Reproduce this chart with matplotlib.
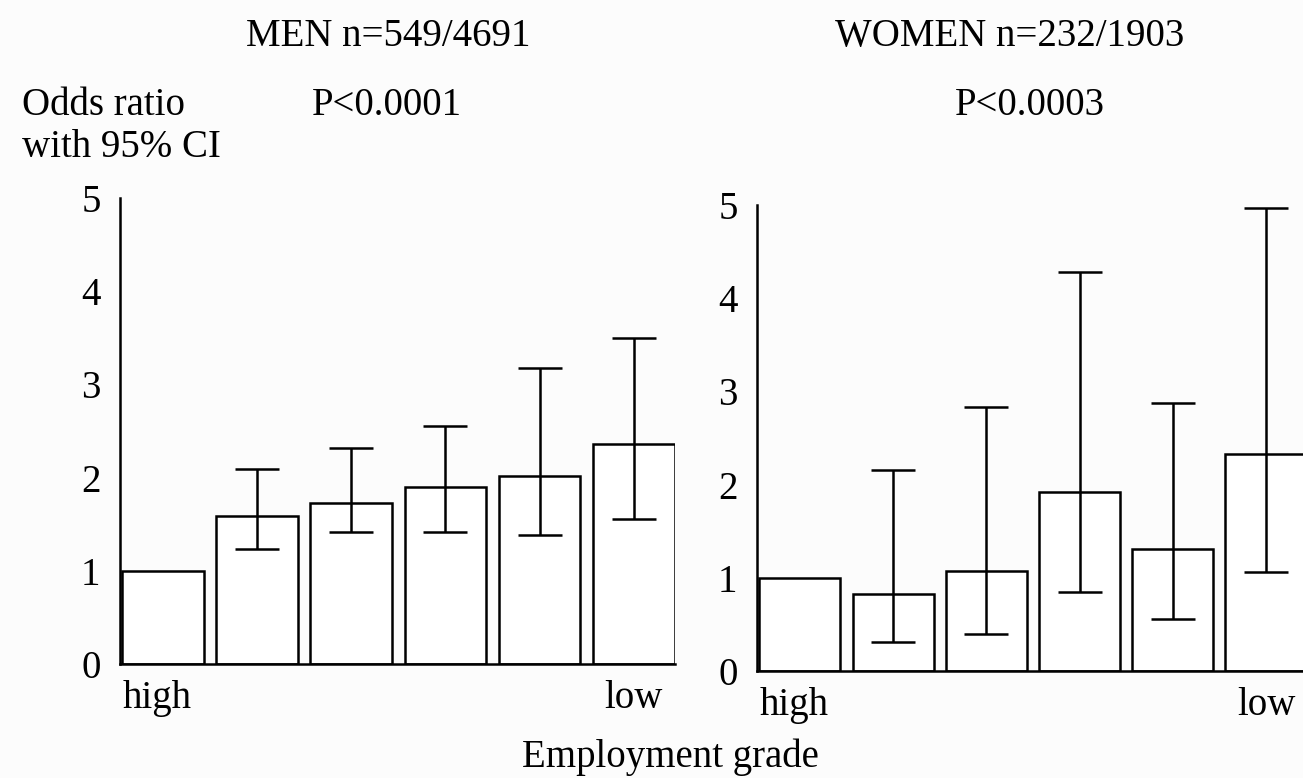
import matplotlib
matplotlib.use("Agg")
import matplotlib.pyplot as plt

# odds ratios by employment grade (high -> low), first grade is the reference
grades = ["high", "", "", "", "", "low"]
men_or = [1.0, 1.59, 1.73, 1.90, 2.02, 2.36]
men_lo = [None, 1.23, 1.42, 1.42, 1.38, 1.56]
men_hi = [None, 2.09, 2.32, 2.55, 3.18, 3.50]
women_or = [1.0, 0.83, 1.07, 1.92, 1.31, 2.33]
women_lo = [None, 0.31, 0.40, 0.85, 0.56, 1.06]
women_hi = [None, 2.16, 2.83, 4.28, 2.88, 4.97]

W, H = 1303, 778
FONT = "Liberation Serif"
FS = 28
LW = 1.8

fig = plt.figure(figsize=(W / 100, H / 100), dpi=100, facecolor="#fcfcfc")


def panel(rect, vals, lo, hi):
    ax = fig.add_axes(rect)
    ax.set_facecolor("none")
    xs = list(range(len(vals)))
    ax.bar(xs, vals, width=0.87, color="white", edgecolor="black", linewidth=LW, zorder=2)
    ex = [x for x, l in zip(xs, lo) if l is not None]
    ey = [vals[i] for i in ex]
    err = [[vals[i] - lo[i] for i in ex], [hi[i] - vals[i] for i in ex]]
    ax.errorbar(ex, ey, yerr=err, fmt="none", ecolor="black", elinewidth=LW,
                capsize=15.5, capthick=LW, zorder=3)
    ax.set_xlim(-0.46, 5.44)
    ax.set_ylim(0, 5)
    ax.set_yticks(range(6))
    ax.set_yticklabels([str(i) for i in range(6)], family=FONT, fontsize=FS)
    ax.tick_params(axis="y", length=0, pad=14)
    ax.set_xticks([])
    for s in ("top", "right"):
        ax.spines[s].set_visible(False)
    for s in ("left", "bottom"):
        ax.spines[s].set_linewidth(LW)
    ax.text(-0.43, -0.47, grades[0], family=FONT, fontsize=FS, ha="left", va="baseline")
    ax.text(5, -0.47, grades[-1], family=FONT, fontsize=FS, ha="center", va="baseline")
    return ax


# axes placed in pixel terms: y=0 baseline and y=5 top, left spine x
def rect(x0, x1, y0, y5):
    return [x0 / W, 1 - y0 / H, (x1 - x0) / W, (y0 - y5) / H]


panel(rect(120, 675, 664, 198), men_or, men_lo, men_hi)
panel(rect(757, 1307, 671, 205), women_or, women_lo, women_hi)


def label(x, y, s, ha="center"):
    fig.text(x / W, 1 - y / H, s, family=FONT, fontsize=FS, ha=ha, va="baseline")


label(388, 46, "MEN n=549/4691")
label(1010, 46, "WOMEN n=232/1903")
label(387, 115, "P<0.0001")
label(1030, 115, "P<0.0003")
label(22, 115, "Odds ratio", ha="left")
label(22, 157, "with 95% CI", ha="left")
label(670, 767, "Employment grade")

fig.savefig("out.png", dpi=100, facecolor=fig.get_facecolor())
